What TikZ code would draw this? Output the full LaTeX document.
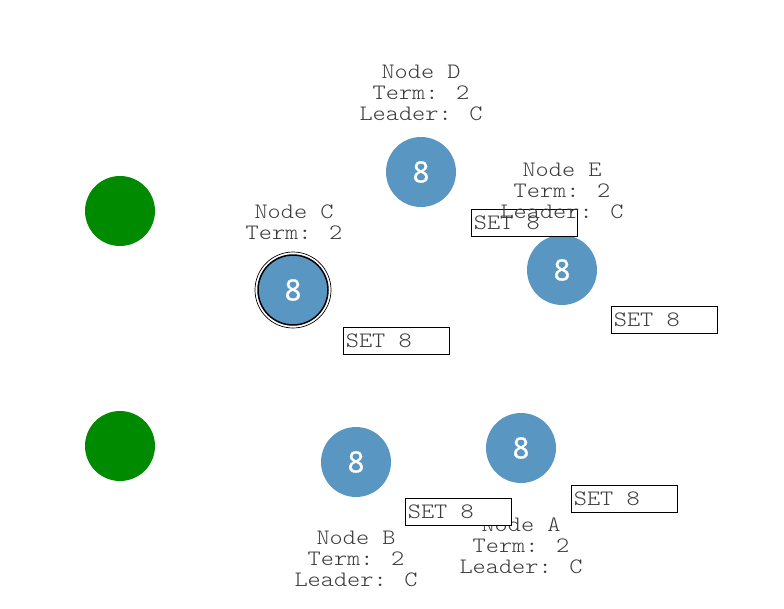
\documentclass[tikz,border=0pt]{standalone}
\usepackage{fontspec}
\newfontfamily\monof[FakeStretch=1.14]{Latin Modern Mono Light}
\newfontfamily\digitf[FakeBold=1.2]{Open Sans}
\definecolor{nodeblue}{HTML}{5A96C2}
\definecolor{termgreen}{HTML}{008A00}
\definecolor{labgray}{HTML}{3A3A3A}
\newcommand{\setmsg}{\makebox[101pt][l]{SET\ 8}}
\begin{document}
\begin{tikzpicture}[x=1pt,y=-1pt,
  peer/.style={circle,fill=nodeblue,minimum size=70pt,inner sep=0pt,text=white,font=\digitf\fontsize{29}{30}\selectfont},
  dead/.style={circle,fill=termgreen,minimum size=70pt,inner sep=0pt},
  info/.style={align=center,text=labgray,font=\monof\fontsize{22}{21}\selectfont,inner sep=0pt},
  setbox/.style={draw=black,line width=0.8pt,fill=white,minimum width=106pt,minimum height=27pt,inner xsep=2.5pt,inner ysep=0pt,text=labgray,font=\monof\fontsize{22}{21}\selectfont,anchor=north west}]
\useasboundingbox (0,0) rectangle (784,608);
% terminated nodes
\node[dead] (g1) at (120,211) {};
\node[dead] (g2) at (120,446) {};
% raft peers
\node[peer] (D) at (421,172) {8};
\node[peer] (E) at (562,270) {8};
\node[peer,draw=black,line width=1.5pt] (C) at (293,290) {8};
\draw[line width=0.7pt] (C.center) circle (38);
\node[peer] (B) at (356,462) {8};
\node[peer] (A) at (521,448) {8};
% message under E label
\node[setbox] (s2) at (471,209) {\setmsg};
% labels
\node[info] (lD) at (421,93) {Node D\\Term: 2\\Leader: C};
\node[info] (lE) at (562,191) {Node E\\Term: 2\\Leader: C};
\node[info] (lC) at (294,222.5) {Node C\\Term: 2};
\node[info] (lB) at (356,559) {Node B\\Term: 2\\Leader: C};
\node[info] (lA) at (521,546) {Node A\\Term: 2\\Leader: C};
% other messages
\node[setbox] (s1) at (343,327) {\setmsg};
\node[setbox] (s3) at (611,306) {\setmsg};
\node[setbox] (s4) at (405,498) {\setmsg};
\node[setbox] (s5) at (571,485) {\setmsg};
\end{tikzpicture}
\end{document}
